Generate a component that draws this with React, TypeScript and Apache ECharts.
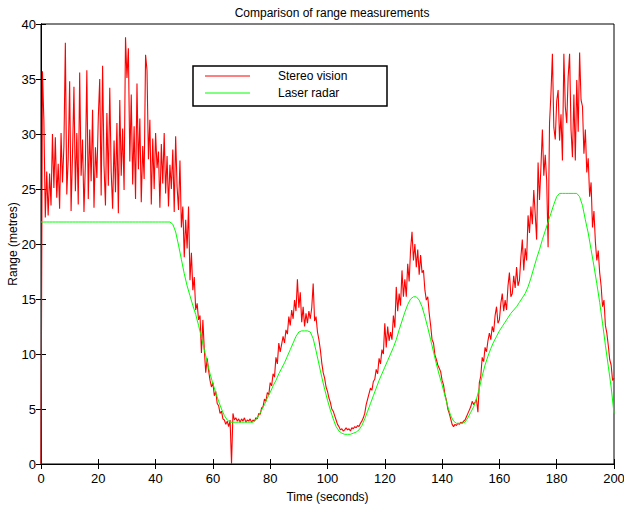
import React, { useEffect, useRef } from "react";
import * as echarts from "echarts";

const chartTitle = "Comparison of range measurements";
const xAxisName = "Time (seconds)";
const yAxisName = "Range (metres)";
const seriesNames = ["Stereo vision", "Laser radar"];
const seriesColors = ["#ff0000", "#00ff00"];

// Stereo vision range, one value every 0.5 s from t = 0 to t = 200
const stereoStep = 0.5;
const stereoRange = [
  // 0 - 10
  0, 35.7, 31.3, 22.4, 26.6, 22.6, 26.4, 23.5, 30.0, 25.1, 29.7, 24.2, 27.3, 23.2, 30.1, 25.6, 28.9, 38.3, 24.5, 27.8,
  // 10 - 20
  34.8, 23.0, 28.2, 34.3, 24.8, 30.1, 23.6, 35.6, 26.2, 29.5, 22.9, 27.4, 35.8, 24.1, 30.4, 25.7, 32.2, 23.3, 28.8, 26.0,
  // 20 - 30
  31.5, 35.0, 24.4, 36.2, 27.1, 23.5, 31.9, 25.3, 34.2, 26.6, 23.2, 29.4, 24.7, 31.0, 22.8, 33.1, 26.2, 30.5, 24.9, 38.8,
  // 30 - 40
  35.1, 37.8, 27.5, 33.6, 25.4, 30.7, 24.1, 34.6, 26.8, 31.4, 23.8, 28.9, 25.9, 37.2, 35.8, 27.7, 31.3, 23.6, 29.6, 25.0,
  // 40 - 50
  30.1, 26.9, 28.4, 23.3, 29.1, 25.5, 30.1, 24.6, 28.0, 23.4, 27.2, 25.0, 28.6, 22.9, 29.8, 25.2, 23.1, 27.6, 21.5, 23.4,
  // 50 - 60
  18.8, 22.2, 19.6, 23.4, 16.7, 19.2, 15.8, 17.0, 14.0, 14.6, 13.1, 13.5, 10.1, 13.1, 10.4, 8.3, 9.6, 8.5, 7.6, 7.0,
  // 60 - 70
  7.4, 6.2, 6.6, 5.5, 5.3, 4.6, 4.8, 4.1, 4.0, 3.6, 3.9, 3.4, 4.0, 0, 4.6, 4.0, 4.2, 3.9, 4.1, 3.8,
  // 70 - 80
  4.1, 3.9, 4.2, 3.8, 4.0, 3.9, 4.1, 3.8, 4.0, 3.9, 4.2, 4.1, 4.6, 4.5, 5.1, 5.2, 5.9, 5.7, 6.5, 6.3,
  // 80 - 90
  7.4, 7.1, 8.2, 7.9, 9.7, 9.1, 11.0, 10.2, 10.9, 11.6, 11.0, 12.2, 11.8, 13.4, 12.6, 14.0, 13.2, 14.9, 13.9, 16.8,
  // 90 - 100
  14.2, 15.6, 12.9, 14.3, 12.5, 13.7, 12.8, 13.9, 13.2, 14.2, 16.4, 13.0, 13.4, 12.0, 11.3, 10.4, 9.2, 8.3, 7.8, 7.0,
  // 100 - 110
  6.6, 6.0, 5.6, 5.0, 4.8, 4.4, 4.0, 3.6, 3.4, 3.1, 3.2, 3.0, 3.1, 3.3, 3.1, 3.2, 3.0, 3.3, 3.2, 3.4,
  // 110 - 120
  3.3, 3.5, 3.4, 3.7, 3.9, 4.2, 4.6, 5.4, 5.9, 6.4, 6.9, 6.7, 7.5, 7.7, 8.6, 8.2, 9.6, 9.1, 10.4, 10.0,
  // 120 - 130
  12.8, 10.6, 12.5, 11.2, 12.0, 11.3, 13.5, 12.4, 16.1, 13.9, 15.5, 14.4, 17.6, 15.2, 16.8, 15.2, 18.2, 16.6, 19.5, 21.1,
  // 130 - 140
  18.5, 20.0, 17.9, 19.5, 17.2, 19.0, 17.4, 17.6, 15.8, 14.9, 15.2, 13.7, 12.6, 11.3, 11.0, 9.9, 9.5, 9.0, 8.7, 8.4,
  // 140 - 150
  7.6, 7.2, 6.3, 5.8, 5.0, 4.6, 4.1, 3.6, 3.4, 3.6, 3.5, 3.7, 3.6, 3.8, 3.7, 3.9, 4.0, 4.3, 4.6, 4.9,
  // 150 - 160
  5.2, 5.7, 5.4, 5.6, 5.9, 4.7, 7.4, 8.0, 9.7, 9.3, 10.6, 10.2, 11.2, 11.9, 11.3, 12.5, 12.0, 13.5, 14.3, 12.8,
  // 160 - 170
  13.1, 14.6, 15.5, 13.9, 14.9, 14.0, 16.2, 17.4, 15.2, 15.5, 17.1, 16.0, 17.9, 16.2, 16.7, 18.8, 20.4, 17.6, 19.6, 18.5,
  // 170 - 180
  22.6, 21.0, 23.4, 21.8, 24.9, 22.7, 20.4, 27.4, 24.0, 27.0, 30.4, 26.2, 28.1, 25.8, 19.7, 31.0, 33.7, 37.3, 30.6, 29.5,
  // 180 - 190
  33.0, 34.0, 29.4, 31.8, 27.6, 37.3, 32.5, 31.0, 35.2, 37.3, 30.4, 27.9, 33.6, 27.6, 34.9, 30.2, 37.4, 33.1, 32.5, 28.2,
  // 190 - 200
  30.4, 26.5, 27.8, 24.3, 25.6, 21.5, 23.0, 20.2, 18.5, 19.4, 17.4, 16.2, 14.3, 14.9, 12.6, 11.9, 10.8, 9.5, 9.0, 7.6,
  7.8,
];

// Laser radar range, one value every 1 s from t = 0 to t = 200
const laserStep = 1;
const laserRange = [
  // 0 - 45
  22, 22, 22, 22, 22, 22, 22, 22, 22, 22, 22, 22, 22, 22, 22, 22, 22, 22, 22, 22,
  22, 22, 22, 22, 22, 22, 22, 22, 22, 22, 22, 22, 22, 22, 22, 22, 22, 22, 22, 22,
  22, 22, 22, 22, 22, 22,
  // 46 - 66
  21.8, 21.1, 19.9, 18.6, 17.3, 16.2, 15.3, 14.4, 13.6, 12.6, 11.5, 10.4, 9.3, 8.2, 7.3, 6.5, 5.7, 5.0, 4.4, 4.0, 3.8,
  // 67 - 90
  3.8, 3.8, 3.8, 3.8, 3.8, 3.8, 3.8, 3.8, 4.0, 4.4, 4.9, 5.4, 6.0, 6.5, 7.1, 7.6, 8.2, 8.7, 9.2, 9.8, 10.4, 11.0, 11.6, 12.0,
  // 91 - 110
  12.1, 12.1, 12.1, 12.0, 11.4, 10.3, 9.1, 7.9, 6.8, 5.8, 4.9, 4.1, 3.4, 3.0, 2.8, 2.7, 2.7, 2.7, 2.8, 2.9,
  // 111 - 130
  3.1, 3.5, 4.1, 4.8, 5.5, 6.2, 6.9, 7.6, 8.2, 8.8, 9.4, 10.0, 10.6, 11.3, 12.2, 13.0, 13.8, 14.5, 15.0, 15.2,
  // 131 - 150
  15.2, 14.9, 14.3, 13.4, 12.4, 11.3, 10.2, 9.1, 8.1, 7.2, 6.2, 5.2, 4.4, 3.9, 3.7, 3.7, 3.7, 3.8, 4.2, 4.7,
  // 151 - 170
  5.2, 5.9, 6.9, 8.0, 9.0, 9.8, 10.5, 11.1, 11.6, 12.1, 12.5, 12.9, 13.3, 13.7, 14.0, 14.3, 14.7, 15.1, 15.5, 16.1,
  // 171 - 190
  16.9, 17.8, 18.7, 19.5, 20.4, 21.2, 22.0, 22.8, 23.6, 24.3, 24.6, 24.6, 24.6, 24.6, 24.6, 24.6, 24.6, 24.3, 23.5, 22.2,
  // 191 - 200
  21.0, 19.5, 18.0, 16.4, 14.7, 12.8, 10.8, 8.9, 7.0, 4.6,
];

const xMin = 0, xMax = 200, xInterval = 20;
const yMin = 0, yMax = 40, yInterval = 5;

const FONT = "'Liberation Sans', Arial, Helvetica, sans-serif";

export default function App() {
  const ref = useRef<HTMLDivElement>(null);
  useEffect(() => {
    if (!ref.current) return;
    const chart = echarts.init(ref.current, undefined, { renderer: "svg" });
    const stereoData = stereoRange.map((v, i) => [i * stereoStep, v]);
    const laserData = laserRange.map((v, i) => [i * laserStep, v]);
    const tickLabel = { color: "#000", fontSize: 13, fontFamily: FONT };
    const axisLine = { show: true, lineStyle: { color: "#000", width: 1 } };
    const axisTick = { show: true, inside: true, length: 5, lineStyle: { color: "#000", width: 1 } };

    // legend box (drawn as graphic for exact MATLAB-like placement)
    const legendBox = { x: 193, y: 66, w: 194, h: 40 };
    const legendGraphics: any[] = [
      {
        type: "rect",
        shape: { x: legendBox.x, y: legendBox.y, width: legendBox.w, height: legendBox.h },
        style: { fill: "#fff", stroke: "#000", lineWidth: 1.5 },
        z: 100,
      },
    ];
    seriesNames.forEach((name, i) => {
      const cy = legendBox.y + 10 + i * 17;
      legendGraphics.push({
        type: "line",
        shape: { x1: 205, y1: cy, x2: 250, y2: cy },
        style: { stroke: seriesColors[i], lineWidth: 1 },
        z: 101,
      });
      legendGraphics.push({
        type: "text",
        x: 278,
        y: cy,
        style: {
          text: name,
          fill: "#000",
          font: `12px ${FONT}`,
          textVerticalAlign: "middle",
          verticalAlign: "middle",
        },
        z: 101,
      });
    });

    chart.setOption({
      animation: false,
      backgroundColor: "#fff",
      title: {
        text: chartTitle,
        left: 327,
        top: 2,
        textAlign: "center",
        textStyle: { color: "#000", fontSize: 12, fontWeight: "normal", fontFamily: FONT },
      },
      grid: {
        left: 41,
        right: 10,
        top: 24,
        bottom: 46,
        containLabel: false,
        outerBoundsMode: "none",
        show: true,
        borderColor: "#000",
        borderWidth: 1,
      },
      graphic: legendGraphics,
      xAxis: [
        {
          type: "value",
          min: xMin,
          max: xMax,
          interval: xInterval,
          name: xAxisName,
          nameLocation: "middle",
          nameGap: 27,
          nameTextStyle: { color: "#000", fontSize: 12, fontFamily: FONT },
          axisLine,
          axisTick,
          axisLabel: { ...tickLabel, margin: 8 },
          splitLine: { show: false },
        },
        {
          type: "value",
          position: "top",
          min: xMin,
          max: xMax,
          interval: xInterval,
          axisLine,
          axisTick,
          axisLabel: { show: false },
          splitLine: { show: false },
        },
      ],
      yAxis: [
        {
          type: "value",
          min: yMin,
          max: yMax,
          interval: yInterval,
          name: yAxisName,
          nameLocation: "middle",
          nameGap: 22,
          nameMoveOverlap: false,
          nameTextStyle: { color: "#000", fontSize: 12, fontFamily: FONT },
          axisLine,
          axisTick,
          axisLabel: { ...tickLabel, margin: 5 },
          splitLine: { show: false },
        },
        {
          type: "value",
          position: "right",
          min: yMin,
          max: yMax,
          interval: yInterval,
          axisLine,
          axisTick,
          axisLabel: { show: false },
          splitLine: { show: false },
        },
      ],
      series: [
        {
          name: seriesNames[0],
          type: "line",
          data: stereoData,
          showSymbol: false,
          symbol: "none",
          lineStyle: { color: seriesColors[0], width: 1.1 },
          itemStyle: { color: seriesColors[0] },
          z: 3,
        },
        {
          name: seriesNames[1],
          type: "line",
          data: laserData,
          showSymbol: false,
          symbol: "none",
          lineStyle: { color: seriesColors[1], width: 1 },
          itemStyle: { color: seriesColors[1] },
          z: 4,
        },
      ],
    });
    return () => chart.dispose();
  }, []);
  return <div ref={ref} style={{ position: "fixed", left: 0, top: 0, width: 624, height: 510 }} />;
}
